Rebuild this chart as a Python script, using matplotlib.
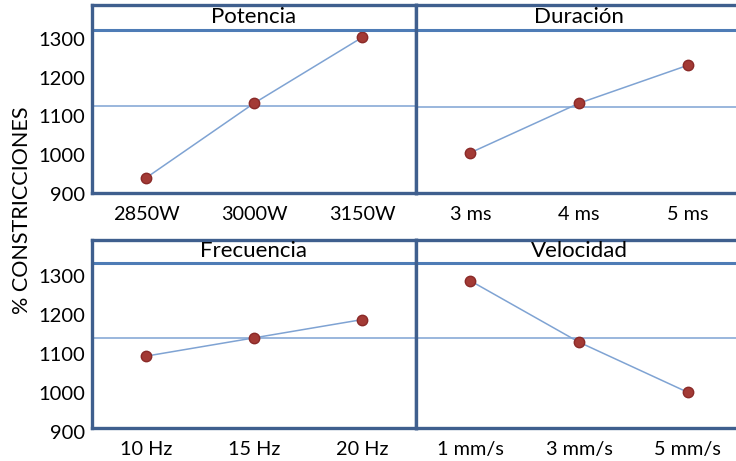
import matplotlib.pyplot as plt
import numpy as np

plt.rcParams['font.family'] = ['Lato', 'DejaVu Sans']

titles = ["Potencia", "Duración", "Frecuencia", "Velocidad"]
levels = [
    ["2850W", "3000W", "3150W"],
    ["3 ms", "4 ms", "5 ms"],
    ["10 Hz", "15 Hz", "20 Hz"],
    ["1 mm/s", "3 mm/s", "5 mm/s"],
]
means = [
    [945, 1138, 1308],
    [1010, 1138, 1236],
    [1098, 1145, 1192],
    [1292, 1134, 1005],
]
yticks = [900, 1000, 1100, 1200, 1300]

W, H = 736, 461
fig = plt.figure(figsize=(W / 100, H / 100), dpi=100)

frame_col = "#3F5F8E"
head_col = "#4E7CB6"
line_col = "#7FA3D3"
mark_col = "#A33A35"

# pixel boxes: top, bottom ; ylim bottom, header line, ylim top
rows = [(5, 193, 906, 1328, 1392), (240, 428, 913, 1338, 1397)]
cols = [(92, 416), (416, 742)]

k = 0
for (top, bot, y0, yhead, y1) in rows:
    for ci, (lft, rgt) in enumerate(cols):
        ax = fig.add_axes([lft / W, 1 - bot / H, (rgt - lft) / W, (bot - top) / H])
        x = np.arange(3)
        ax.axhline(np.mean(means[k]), color=line_col, lw=1.1)
        ax.plot(x, means[k], color=line_col, lw=1.1)
        ax.plot(x, means[k], 'o', ms=7.5, color=mark_col, mec="#8A2A28", mew=1)
        ax.axhline(yhead, color=head_col, lw=2.2)
        ax.text(1, (yhead + y1) / 2, titles[k], ha="center", va="center", fontsize=16)
        ax.set_xlim(-0.5, 2.5)
        ax.set_ylim(y0, y1)
        ax.set_xticks(x)
        ax.set_xticklabels(levels[k], fontsize=14.3)
        ax.set_yticks(yticks[1:])
        ax.set_yticklabels([])
        if ci == 0:
            for v in yticks:
                ax.annotate(str(v), xy=(0, v), xycoords=("axes fraction", "data"),
                            xytext=(-5, 0), textcoords="offset points",
                            ha="right", va="center", fontsize=14.5,
                            annotation_clip=False)
        ax.tick_params(length=0)
        ax.tick_params(axis="x", pad=9)
        for s in ax.spines.values():
            s.set_color(frame_col)
            s.set_linewidth(2.4)
        k += 1

fig.text(22 / W, 1 - 210 / H, "% CONSTRICCIONES", rotation=90,
         ha="center", va="center", fontsize=15.5)

fig.savefig("out.png", dpi=100)
